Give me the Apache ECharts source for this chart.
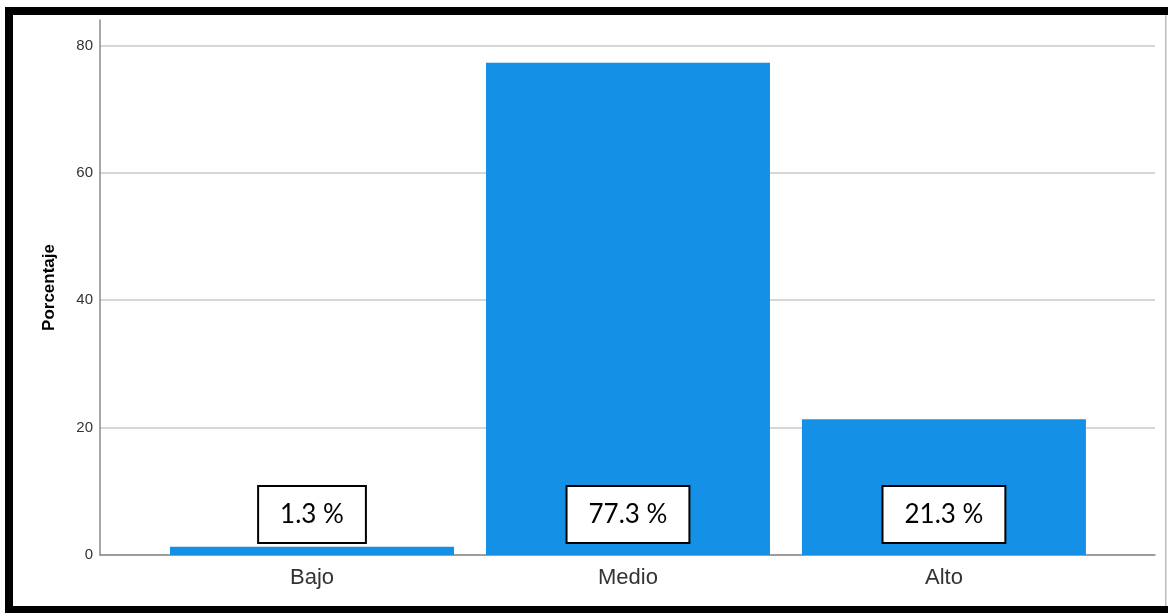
<!DOCTYPE html>
<html>
<head>
<meta charset="utf-8">
<style>
html,body{margin:0;padding:0;background:#fff;}
#chart{width:1168px;height:613px;}
</style>
<script src="https://cdn.jsdelivr.net/npm/echarts@6/dist/echarts.min.js"></script>
</head>
<body>
<div id="chart"></div>
<script>
const categories = ['Bajo', 'Medio', 'Alto'];
const percentages = [1.3, 77.3, 21.3];
const yTicks = [0, 20, 40, 60, 80];
const yAxisTitle = 'Porcentaje';

const chart = echarts.init(document.getElementById('chart'), null, {renderer: 'canvas'});
const barData = percentages.map((v, i) => [i + 1, v]);

chart.setOption({
  animation: false,
  backgroundColor: '#ffffff',
  grid: {left: 100, right: 13, top: 20, bottom: 58},
  xAxis: {
    type: 'value',
    min: 0.329,
    max: 3.668,
    splitLine: {show: false},
    axisTick: {show: false},
    axisLine: {show: true, onZero: false, lineStyle: {color: '#8a8a8a', width: 1.5}},
    axisLabel: {
      customValues: [1, 2, 3],
      formatter: v => categories[Math.round(v) - 1] || '',
      fontFamily: 'Liberation Sans, Arial, sans-serif',
      fontSize: 22,
      color: '#333',
      margin: 12
    }
  },
  yAxis: {
    type: 'value',
    min: 0,
    max: 84,
    interval: 20,
    name: yAxisTitle,
    nameLocation: 'middle',
    nameRotate: 90,
    nameGap: 42,
    nameTextStyle: {fontFamily: 'Liberation Sans, Arial, sans-serif', fontSize: 17, fontWeight: 'bold', color: '#000'},
    axisLine: {show: true, lineStyle: {color: '#8a8a8a', width: 1.5}},
    axisTick: {show: false},
    axisLabel: {
      showMaxLabel: false,
      formatter: v => (yTicks.indexOf(v) >= 0 ? String(v) : ''),
      fontFamily: 'Liberation Sans, Arial, sans-serif',
      fontSize: 15,
      color: '#333',
      margin: 7
    },
    splitLine: {show: true, showMaxLine: false, lineStyle: {color: '#c8c8c8', width: 1.5}}
  },
  series: [{
    type: 'bar',
    data: barData,
    barWidth: 284,
    itemStyle: {color: '#1491E6'},
    label: {
      show: true,
      position: 'insideBottom',
      distance: 13,
      formatter: p => p.value[1].toFixed(1) + ' %',
      fontFamily: 'Lato, Carlito, Calibri, sans-serif',
      fontSize: 26,
      lineHeight: 27,
      color: '#000',
      backgroundColor: '#fff',
      borderColor: '#000',
      borderWidth: 2,
      padding: [14, 21]
    }
  }],
  graphic: [
    {type: 'rect', shape: {x: 5, y: 7, width: 1163, height: 8}, style: {fill: '#000'}},
    {type: 'rect', shape: {x: 5, y: 7, width: 8, height: 606}, style: {fill: '#000'}},
    {type: 'rect', shape: {x: 5, y: 606, width: 1163, height: 7}, style: {fill: '#000'}},
    {type: 'rect', shape: {x: 1165, y: 15, width: 1.5, height: 591}, style: {fill: '#bbb'}}
  ]
});
</script>
</body>
</html>
